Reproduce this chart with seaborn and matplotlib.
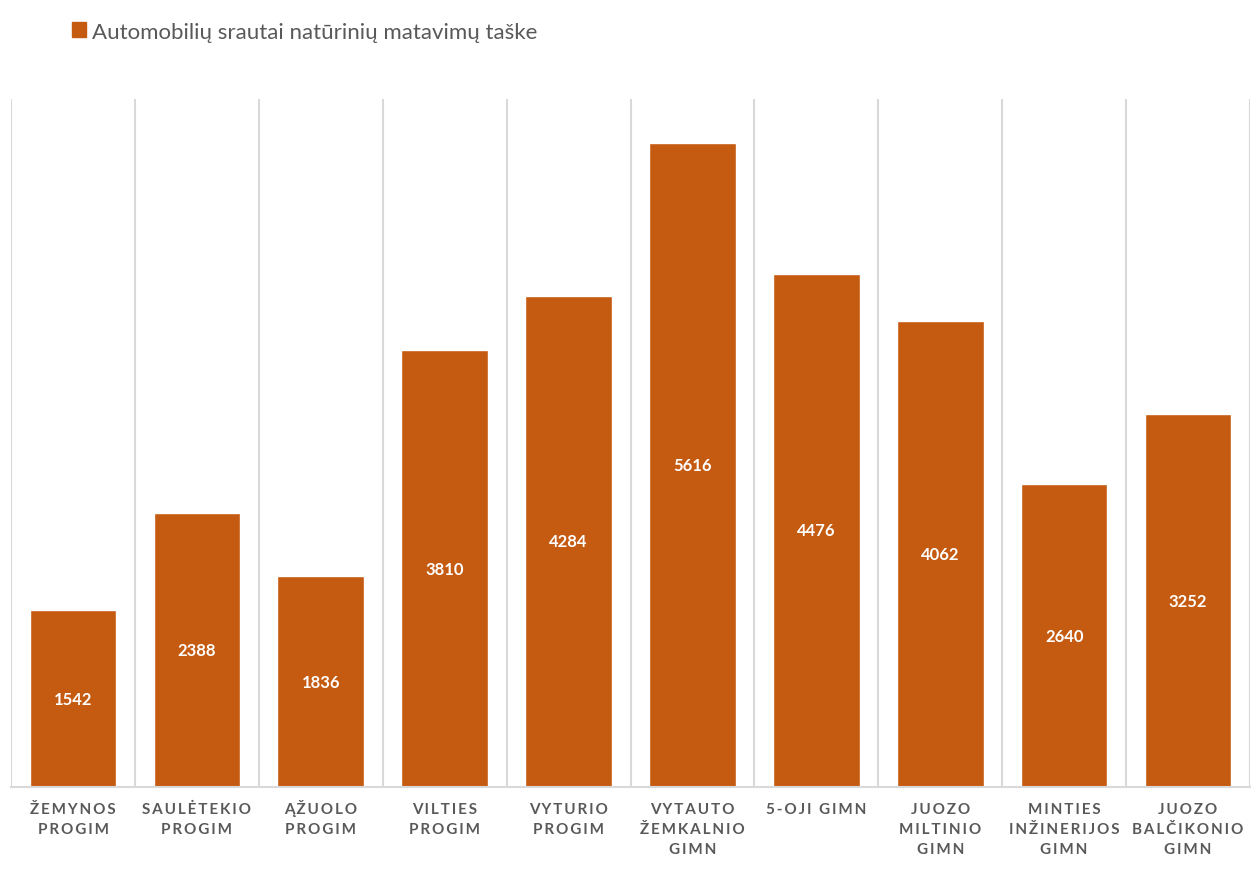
import numpy as np
import pandas as pd
import matplotlib
matplotlib.use('Agg')
import matplotlib.pyplot as plt
import matplotlib.transforms as mtransforms
import seaborn as sns
from matplotlib.patches import Patch

# ─────────────────────────────────────────────
# 데이터
# ─────────────────────────────────────────────
categories = [
    'ŽEMYNOS\nPROGIM', 'SAULĖTEKIO\nPROGIM', 'ĄŽUOLO\nPROGIM',
    'VILTIES\nPROGIM', 'VYTURIO\nPROGIM', 'VYTAUTO\nŽEMKALNIO\nGIMN',
    '5-OJI GIMN', 'JUOZO\nMILTINIO\nGIMN', 'MINTIES\nINŽINERIJOS\nGIMN',
    'JUOZO\nBALČIKONIO\nGIMN',
]
values = [1542, 2388, 1836, 3810, 4284, 5616, 4476, 4062, 2640, 3252]
series_name = 'Automobilių srautai natūrinių matavimų taške'

BAR_COLOR  = '#C55A11'
GRID_COLOR = '#D9D9D9'
TEXT_COLOR = '#595959'


def spaced(label):
    # 글자 간격 흉내 (thin space 삽입)
    return '\n'.join('\u2009'.join(line) for line in label.split('\n'))


sns.set_theme(style='white')
plt.rcParams['font.family'] = ['Lato', 'DejaVu Sans']

df = pd.DataFrame({'school': categories, 'cars': values})

fig = plt.figure(figsize=(12.57, 8.95), dpi=100)
ax = fig.add_axes([0.0088, 0.1196, 0.9856, 0.7686])

sns.barplot(data=df, x='school', y='cars', color=BAR_COLOR,
            width=0.7, saturation=1, ax=ax)

ax.set_ylim(0, 6000)
ax.set_xlim(-0.5, len(categories) - 0.5)

# 값 라벨 (막대 가운데)
for i, v in enumerate(values):
    ax.text(i, v / 2, f'{v}', ha='center', va='center', color='white',
            fontsize=12, fontweight='bold')

# 카테고리 경계 세로 격자선
ax.set_xticks(np.arange(-0.5, len(categories)), minor=True)
ax.grid(which='minor', axis='x', color=GRID_COLOR, linewidth=1.5)
ax.grid(which='major', visible=False)
ax.tick_params(which='both', length=0)
ax.set_yticks([])

ax.set_xticks(range(len(categories)))
ax.set_xticklabels([spaced(c) for c in categories], fontsize=11,
                   fontweight='bold', color=TEXT_COLOR, linespacing=1.55)
ax.tick_params(axis='x', pad=11)

# Ą 때문에 아래로 밀리는 라벨 살짝 올리기
for lbl in ax.get_xticklabels():
    if 'Ą' in lbl.get_text():
        lbl.set_transform(lbl.get_transform() +
                          mtransforms.ScaledTranslation(0, 2.6 / 72, fig.dpi_scale_trans))

for s in ['top', 'left', 'right']:
    ax.spines[s].set_visible(False)
ax.spines['bottom'].set_color(GRID_COLOR)
ax.spines['bottom'].set_linewidth(1.5)

ax.set_xlabel('')
ax.set_ylabel('')

fig.legend(handles=[Patch(color=BAR_COLOR, label=series_name)],
           loc='upper left', bbox_to_anchor=(0.041, 0.997), frameon=False,
           fontsize=16, handlelength=0.65, handleheight=0.65,
           handletextpad=0.25, labelcolor=TEXT_COLOR)

plt.savefig('out.png', dpi=100)
